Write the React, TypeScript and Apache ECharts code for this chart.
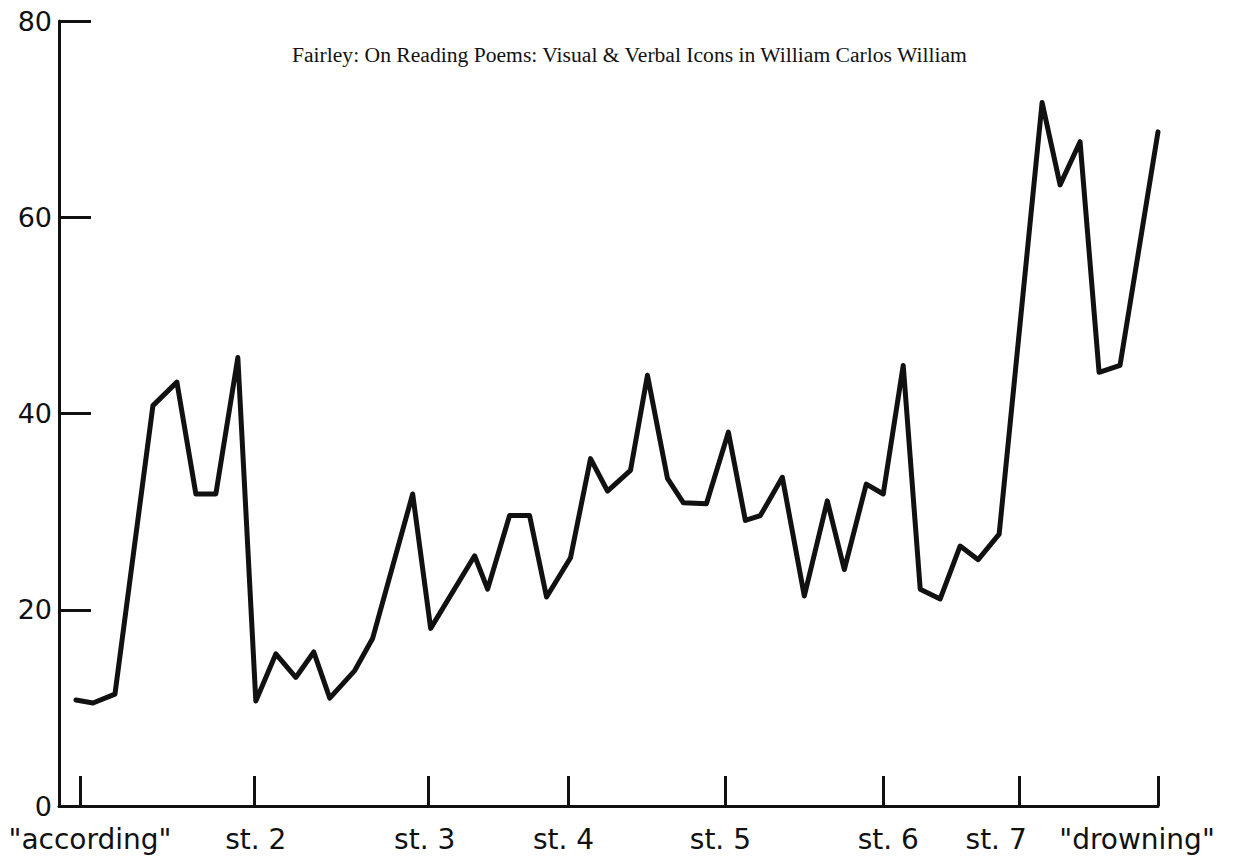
import React, { useEffect, useRef } from "react";
import * as echarts from "echarts";

const TITLE = "Fairley: On Reading Poems: Visual & Verbal Icons in William Carlos William";

// x positions along the poem (arbitrary units), y values
const xValues = [
  1.7, 3.4, 5.6, 9.4, 11.8, 13.7, 15.7, 17.9, 19.7, 21.7, 23.7, 25.5, 27.1, 29.6, 31.4,
  35.4, 37.2, 41.6, 42.9, 45.1, 47.1, 48.8, 51.2, 53.2, 54.9, 57.2, 58.9, 60.9, 62.5,
  64.8, 67.0, 68.7, 70.2, 72.4, 74.6, 76.9, 78.6, 80.8, 82.5, 84.5, 86.2, 88.2, 90.2,
  92.0, 94.1, 98.4, 100.2, 102.2, 104.1, 106.2, 110,
];
const yValues = [
  10.8, 10.5, 11.4, 40.8, 43.2, 31.8, 31.8, 45.7, 10.7, 15.5, 13.1, 15.7, 11.0, 13.8, 17.1,
  31.8, 18.1, 25.5, 22.1, 29.6, 29.6, 21.3, 25.3, 35.4, 32.1, 34.2, 43.9, 33.4, 30.9,
  30.8, 38.1, 29.1, 29.6, 33.5, 21.4, 31.1, 24.1, 32.8, 31.8, 44.9, 22.1, 21.1, 26.5,
  25.1, 27.7, 71.7, 63.3, 67.7, 44.2, 44.9, 68.7,
];

// stanza tick marks and their labels
const tickPositions = [2.1, 19.5, 37.0, 51.0, 66.7, 82.5, 96.1, 110];
const labelPositions = [3.1, 19.7, 36.6, 50.5, 66.2, 83.0, 93.8, 107.9];
const labelTexts = ['"according"', "st. 2", "st. 3", "st. 4", "st. 5", "st. 6", "st. 7", '"drowning"'];

const yTicks = [0, 20, 40, 60, 80];

export default function App() {
  const ref = useRef<HTMLDivElement>(null);

  useEffect(() => {
    if (!ref.current) return;
    const chart = echarts.init(ref.current, null, { renderer: "svg" });
    const ink = "#111";
    const sans = "DejaVu Sans";
    const option: any = {
      animation: false,
      backgroundColor: "#fff",
      title: {
        text: TITLE,
        left: 287,
        top: 39,
        textStyle: {
          fontFamily: "Liberation Serif",
          fontSize: 21.6,
          fontWeight: "normal",
          color: ink,
        },
      },
      grid: {
        left: 59,
        right: 79,
        top: 21,
        bottom: 54,
        containLabel: false,
        outerBoundsMode: "none",
      },
      xAxis: {
        type: "value",
        min: 0,
        max: 110,
        axisLine: { show: true, lineStyle: { color: ink, width: 3 } },
        axisTick: {
          show: true,
          inside: true,
          length: 30,
          customValues: tickPositions,
          lineStyle: { color: ink, width: 3 },
        },
        axisLabel: {
          customValues: labelPositions,
          formatter: (v: number) => {
            let best = 0;
            let d = Infinity;
            labelPositions.forEach((p, i) => {
              if (Math.abs(p - v) < d) {
                d = Math.abs(p - v);
                best = i;
              }
            });
            return labelTexts[best];
          },
          fontFamily: sans,
          fontSize: 28,
          color: ink,
          margin: 19,
          hideOverlap: false,
        },
        splitLine: { show: false },
      },
      yAxis: {
        type: "value",
        min: 0,
        max: 80,
        interval: 20,
        axisLine: { show: true, lineStyle: { color: ink, width: 3 } },
        axisTick: {
          show: true,
          inside: true,
          length: 32,
          lineStyle: { color: ink, width: 3 },
        },
        axisLabel: {
          fontFamily: sans,
          fontSize: 27,
          color: ink,
          margin: 7,
          formatter: (v: number) => (yTicks.includes(v) ? String(v) : ""),
        },
        splitLine: { show: false },
      },
      series: [
        {
          type: "line",
          data: xValues.map((x, i) => [x, yValues[i]]),
          symbol: "none",
          lineStyle: { color: ink, width: 5, join: "round", cap: "round" },
          clip: false,
        },
      ],
    };
    chart.setOption(option);
    return () => chart.dispose();
  }, []);

  return (
    <div
      ref={ref}
      style={{ position: "absolute", left: 0, top: 0, width: 1237, height: 860 }}
    />
  );
}
